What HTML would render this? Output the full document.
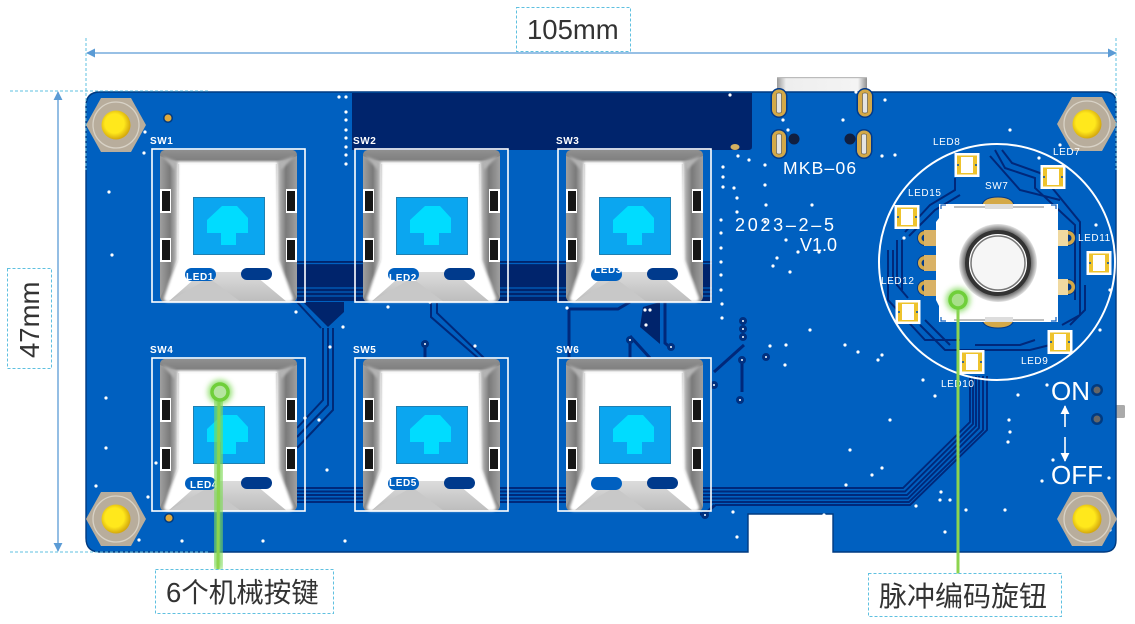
<!DOCTYPE html>
<html><head><meta charset="utf-8">
<style>
html,body{margin:0;padding:0;background:#fff;width:1135px;height:624px;overflow:hidden}
svg{display:block}
.si{font-family:"Liberation Sans",sans-serif;fill:#fff;font-weight:bold;font-size:10px;letter-spacing:.6px}
.pcb{font-family:"Liberation Sans",sans-serif;fill:#fff}
.lab{font-family:"Liberation Sans","Noto Sans CJK SC",sans-serif;fill:#333;font-size:27.5px}
</style></head><body>
<svg width="1135" height="624" viewBox="0 0 1135 624" xmlns="http://www.w3.org/2000/svg">
<defs>
<linearGradient id="gu" x1="0" y1="0" x2="1" y2="0"><stop offset="0" stop-color="#999"/><stop offset=".1" stop-color="#eee"/><stop offset=".9" stop-color="#f4f4f4"/><stop offset="1" stop-color="#8f8f8f"/></linearGradient>
<linearGradient id="gl" x1="0" y1="0" x2="1" y2="0"><stop offset="0" stop-color="#a0a0a0"/><stop offset=".55" stop-color="#7a7a7a"/><stop offset="1" stop-color="#c8c8c8"/></linearGradient>
<linearGradient id="gr" x1="0" y1="0" x2="1" y2="0"><stop offset="0" stop-color="#c8c8c8"/><stop offset=".45" stop-color="#7a7a7a"/><stop offset="1" stop-color="#a0a0a0"/></linearGradient>
<linearGradient id="gt" x1="0" y1="0" x2="0" y2="1"><stop offset="0" stop-color="#909090"/><stop offset=".7" stop-color="#808080"/><stop offset="1" stop-color="#d8d8d8"/></linearGradient>
<linearGradient id="gb" x1="0" y1="0" x2="0" y2="1"><stop offset="0" stop-color="#dcdcdc"/><stop offset="1" stop-color="#bcbcbc"/></linearGradient>
<radialGradient id="gk" cx=".5" cy=".5" r=".5"><stop offset=".72" stop-color="#555"/><stop offset=".86" stop-color="#777"/><stop offset="1" stop-color="#e4e4e4"/></radialGradient>
<radialGradient id="gy" cx=".45" cy=".45" r=".55"><stop offset=".6" stop-color="#ffe81c"/><stop offset="1" stop-color="#d4a80e"/></radialGradient>
<filter id="glow" x="-400%" y="-20%" width="900%" height="140%"><feGaussianBlur stdDeviation="3"/></filter>
<filter id="glow2" x="-60%" y="-60%" width="220%" height="220%"><feGaussianBlur stdDeviation="3"/></filter>
<filter id="soft" x="-10%" y="-10%" width="120%" height="120%"><feGaussianBlur stdDeviation="1.2"/></filter>
<marker id="ah" viewBox="0 0 10 10" refX="9" refY="5" markerWidth="9" markerHeight="9" orient="auto-start-reverse" markerUnits="userSpaceOnUse"><path d="M0 0L10 5L0 10z" fill="#5b9bd5"/></marker>
<marker id="aw" viewBox="0 0 10 10" refX="9" refY="5" markerWidth="9" markerHeight="9" orient="auto" markerUnits="userSpaceOnUse"><path d="M0 0L10 5L0 10z" fill="#fff"/></marker>
<g id="key">
<path d="M15 2H140Q146 2 146 8V148Q146 154 140 154H15Q9 154 9 148V8Q9 2 15 2z" fill="#8a8a8a"/>
<path d="M9 8Q9 2 15 2H140Q146 2 146 8L126 16H27z" fill="url(#gt)"/>
<path d="M9 8L27 16L27 112L9 150z" fill="url(#gl)"/>
<path d="M146 8L126 16L126 112L146 150z" fill="url(#gr)"/>
<path d="M11 8L27 14L24 22z" fill="#b4b4b4" filter="url(#soft)"/>
<path d="M144 8L126 14L130 22z" fill="#b4b4b4" filter="url(#soft)"/>
<path d="M27 14H126L128 112L142 150Q142 154 138 154H17Q13 154 13 150L26 112z" fill="#fff" filter="url(#soft)"/>
<path d="M17 154L42 132L65 124L100 124L136 154z" fill="url(#gb)"/>
<path d="M17 154L58 130L90 154z" fill="#c8c8c8"/>
<rect x="42.500" y="49.500" width="71" height="57" fill="#0ba6f0" stroke="#1f7fb0"/>
<path d="M56 85V72L71 58H86L97 70V85H85V97H70V85z" fill="#00dcff"/>
<path d="M9 41H20V65H9M9 90H20V114H9" fill="#fff"/>
<rect x="11" y="43" width="8" height="20" fill="#161616"/><rect x="11" y="92" width="8" height="20" fill="#161616"/>
<path d="M135 41H146V65H135M135 90H146V114H135z" fill="#fff"/>
<rect x="136" y="43" width="8" height="20" fill="#161616"/><rect x="136" y="92" width="8" height="20" fill="#161616"/>
<rect x="1" y="1" width="153" height="153" fill="none" stroke="#fff" stroke-width="1.600"/>
<rect x="34" y="120" width="31" height="13" rx="6.500" fill="#0060c0"/>
<rect x="90" y="120" width="31" height="12" rx="6" fill="#003a8c"/>
</g>
<g id="led"><rect x="-12.500" y="-12" width="25" height="24" fill="#fff"/><rect x="-10" y="-9.500" width="20" height="19" fill="#eec32c"/><rect x="-6" y="-8" width="12" height="16" fill="#fff"/><circle cx="-9" cy="0" r="1" fill="#0050b0"/><circle cx="9" cy="0" r="1" fill="#0050b0"/></g>
<g id="hole"><path d="M-30 0L-15 -27H15L30 0L15 27H-15z" fill="#b8ad9c"/><circle r="23" fill="none" stroke="#d8d2c6" stroke-width="1.300"/><circle r="14.500" fill="url(#gy)"/></g>
<g id="pad"><circle r="8" fill="#003a8c"/><circle r="7" fill="#d4a948"/><circle r="3.500" fill="#003a8c"/></g>
<g id="oval"><rect x="-8.500" y="-15" width="17" height="30" rx="8.500" fill="#003a8c"/><rect x="-7" y="-13.500" width="14" height="27" rx="7" fill="#d4a948"/><rect x="-2.500" y="-10" width="5" height="20" rx="1.500" fill="#e4e4e4" stroke="#333" stroke-width=".5"/></g>
</defs>

<!-- USB -->
<rect x="777" y="77" width="90" height="16" fill="url(#gu)"/>
<rect x="777" y="77" width="90" height="1.200" fill="#bbb"/>
<!-- side switch -->
<rect x="1114" y="405" width="11" height="13" rx="1.500" fill="#aaa"/>

<!-- Board -->
<path d="M100 92H1105Q1116 92 1116 103V540Q1116 552 1104 552H833V514H748V552H100Q86 552 86 538V106Q86 92 100 92z" fill="#0060c0" stroke="#003a80" stroke-width="1.400"/>
<path d="M352 93H752V147Q752 150 748 150H352z" fill="#00246c"/>
<!-- upper band traces -->
<rect x="297" y="261" width="415" height="40" fill="#00246c"/>
<path d="M297 263.500H712M297 288H712M297 292H712M297 296H712" stroke="#0060c0" stroke-width="1.300"/>
<path d="M303 302L328 327L344 312V302z" fill="#00246c"/>
<path d="M323 328V400L297 428M328 328V405L297 437M333 328V410L297 448" stroke="#002a78" stroke-width="2" fill="none"/>
<path d="M297 302L321 328" stroke="#002a78" stroke-width="2"/>
<path d="M431 303V317L478 358M437 303V313L484 358" stroke="#00287a" stroke-width="2" fill="none"/>
<path d="M425 345V358" stroke="#00287a" stroke-width="3"/>
<path d="M569 309H618L630 302M569 309V358" stroke="#00287a" stroke-width="3" fill="none"/>
<path d="M643 307L660 302V344L640 327z" fill="#00246c"/>
<path d="M630 340V358M665 302V343L672 349M630 336L650 358" stroke="#00287a" stroke-width="3" fill="none"/>
<path d="M714 372L744 345M742 360V392" stroke="#00287a" stroke-width="3" fill="none"/>
<!-- bottom bus -->
<g fill="none" stroke="#00287a" stroke-width="1.900">
<path d="M297 488H903L970 422V376"/>
<path d="M297 491.500H905L973 424V376"/>
<path d="M297 495H907L976 426V376"/>
<path d="M297 498.500H908L979 428V376"/>
<path d="M297 502H909L983 430V376"/>
<path d="M715 505H910L987 430V376"/>
<path d="M715 505L705 514H700" stroke-width="3"/>
</g>
<!-- encoder traces -->
<g fill="none" stroke="#00287a" stroke-width="2">
<path d="M905 232L930 205L955 190V178M909 236L935 210L960 195"/>
<path d="M897 240V285L908 298M902 240V290M893 250V280M888 250V300L925 340H960"/>
<path d="M995 150L1005 168L1035 178L1035 188L1075 225V300M1002 150L1012 163L1040 173L1080 222V298M990 156L1020 190L1060 200"/>
<path d="M1085 285V310L1070 325M1080 295V315L1062 325M1050 345L1030 350H965M1035 340L1020 345H975"/>
<path d="M920 325L945 350H965M925 320L950 345"/>
</g>

<!-- vias -->
<path fill="none" stroke="#fff" stroke-width="3.200" stroke-linecap="round" d="M339 97h0M346 97h0M346 112h0M346 120h0M346 130h0M346 138h0M346 147h0M346 155h0M346 164h0M144 153h0M145 132h0M109 192h0M112 255h0M106 398h0M106 448h0M156 463h0M139 540h0M182 541h0M263 541h0M345 541h0M96 486h0M148 497h0M330 347h0M319 420h0M327 470h0M305 418h0M296 312h0M343 327h0M424 342h0M475 346h0M388 307h0M430 302h0M567 308h0M645 310h0M650 310h0M646 325h0M777 258h0M773 266h0M790 272h0M798 252h0M819 252h0M786 240h0M812 205h0M783 120h0M788 130h0M843 120h0M866 100h0M885 100h0M882 156h0M765 165h0M765 185h0M766 205h0M765 222h0M723 167h0M723 177h0M723 187h0M734 188h0M737 198h0M737 212h0M721 220h0M721 233h0M721 248h0M721 262h0M721 275h0M721 290h0M722 304h0M722 318h0M738 156h0M749 160h0M730 95h0M856 92h0M895 155h0M904 238h0M1039 158h0M1097 130h0M1010 130h0M882 355h0M858 352h0M878 360h0M923 380h0M935 396h0M1018 395h0M1047 385h0M1010 432h0M1009 420h0M1008 442h0M1042 481h0M1053 460h0M1075 505h0M1109 478h0M1083 500h0M1110 530h0M916 506h0M945 532h0M966 510h0M824 515h0M737 537h0M733 512h0M850 450h0M872 475h0M846 485h0M882 468h0M940 500h0M941 492h0M1104 110h0M1060 145h0M1112 125h0M1096 225h0M1110 290h0M1100 330h0M950 500h0M785 365h0M770 346h0M786 345h0M810 330h0M845 345h0M1005 510h0M890 420h0"/>
<!-- via rings -->
<g fill="#fff" stroke="#003080" stroke-width="3"><circle cx="743" cy="321" r="2.500"/><circle cx="743" cy="329" r="2.500"/><circle cx="743" cy="337" r="2.500"/><circle cx="766" cy="357" r="2.500"/><circle cx="742" cy="360" r="2.500"/><circle cx="740" cy="400" r="2.500"/><circle cx="705" cy="515" r="2.500"/><circle cx="714" cy="385" r="2.500"/><circle cx="425" cy="344" r="2.500"/><circle cx="630" cy="340" r="2.500"/><circle cx="671" cy="347" r="2.500"/></g>
<circle cx="168" cy="118" r="5" fill="#003a80"/><circle cx="168" cy="118" r="3.500" fill="#e0a93c"/>
<circle cx="169" cy="518" r="5" fill="#003a80"/><circle cx="169" cy="518" r="3.500" fill="#e0a93c"/>
<ellipse cx="735" cy="147" rx="4.500" ry="3" fill="#d4b060"/>

<!-- holes -->
<use href="#hole" x="116" y="125"/><use href="#hole" x="116" y="519"/><use href="#hole" x="1087" y="124"/><use href="#hole" x="1087" y="519"/>

<!-- USB pads -->
<use href="#oval" x="779" y="103"/><use href="#oval" x="865" y="103"/><use href="#oval" x="779" y="144"/><use href="#oval" x="864" y="144"/>
<circle cx="794" cy="139" r="5.500" fill="#101f40"/><circle cx="850" cy="139" r="5.500" fill="#101f40"/>

<!-- keys -->
<use href="#key" x="151" y="148"/><use href="#key" x="354" y="148"/><use href="#key" x="557" y="148"/>
<use href="#key" x="151" y="357"/><use href="#key" x="354" y="357"/><use href="#key" x="557" y="357"/>

<g class="si">
<text x="150" y="144">SW1</text><text x="353" y="144">SW2</text><text x="556" y="144">SW3</text>
<text x="150" y="353">SW4</text><text x="353" y="353">SW5</text><text x="556" y="353">SW6</text>
<text x="186" y="280">LED1</text><text x="389" y="281">LED2</text><text x="594" y="273">LED3</text>
<text x="190" y="488">LED4</text><text x="389" y="486">LED5</text>
</g>

<!-- PCB text -->
<text class="pcb" x="783" y="174" font-size="17.500" letter-spacing="1.200">MKB–06</text>
<text class="pcb" x="735" y="231" font-size="18" letter-spacing="2.700">2023–2–5</text>
<text class="pcb" x="800" y="251" font-size="18">V1.0</text>
<text class="pcb" x="1051" y="400" font-size="26">ON</text>
<text class="pcb" x="1051" y="484" font-size="26">OFF</text>
<path d="M1065 427V406" stroke="#fff" stroke-width="1.600" marker-end="url(#aw)"/>
<path d="M1065 437V461" stroke="#fff" stroke-width="1.600" marker-end="url(#aw)"/>
<circle cx="1097" cy="390" r="6" fill="#003a80"/><circle cx="1097" cy="390" r="3.500" fill="#666"/>
<circle cx="1097" cy="419" r="6" fill="#003a80"/><circle cx="1097" cy="419" r="3.500" fill="#666"/>

<!-- encoder -->
<circle cx="997" cy="262" r="118" fill="none" stroke="#fff" stroke-width="2"/>
<use href="#led" x="967" y="165"/><use href="#led" x="1053" y="177"/><use href="#led" x="907" y="217"/><use href="#led" x="1099" y="263"/><use href="#led" x="908" y="312"/><use href="#led" x="1060" y="342"/><use href="#led" x="972" y="362"/>
<use href="#pad" x="925" y="238"/><use href="#pad" x="925" y="263"/><use href="#pad" x="925" y="288"/><use href="#pad" x="1068" y="238"/><use href="#pad" x="1068" y="287"/>
<path d="M924 230H945V246H924M924 255H945V271H924M924 280H945V296H924" fill="#d9b266"/>
<path d="M1058 230H1068V246H1058M1058 279H1068V295H1058" fill="#f0d9a0"/>
<path d="M982 205Q984 197 998 197Q1012 197 1014 205z" fill="#d4a948" stroke="#003a8c"/>
<path d="M982 320Q984 328 998 328Q1012 328 1014 320z" fill="#d4a948" stroke="#003a8c"/>
<path d="M939 204H1058V322H939V306L936 300V222L939 218z" fill="#fff"/>
<path d="M954 207H1044M954 320H1044" stroke="#aaa" stroke-width="1.500"/>
<rect x="985" y="204" width="28" height="5" fill="#ddd"/><rect x="985" y="317" width="28" height="5" fill="#ddd"/>
<path d="M941 209V205H946M1056 209V205H1051M941 317V321H946M1056 317V321H1051" stroke="#1060c0" stroke-width="1.200" fill="none"/>
<circle cx="998" cy="263" r="39" fill="url(#gk)"/>
<circle cx="998" cy="263" r="31" fill="#fff" stroke="#333" stroke-width="4"/>
<circle cx="998" cy="263" r="27" fill="#f6f6f6" stroke="#777" stroke-width="1.500"/>

<g class="si" style="font-size:10px;font-weight:normal">
<text x="933" y="145">LED8</text><text x="1053" y="155">LED7</text><text x="908" y="196">LED15</text><text x="985" y="189">SW7</text>
<text x="1078" y="241">LED11</text><text x="881" y="284">LED12</text><text x="1021" y="364">LED9</text><text x="941" y="387">LED10</text>
</g>

<!-- green callouts -->
<g>
<line x1="958" y1="300" x2="958" y2="580" stroke="#7ed957" stroke-width="11" opacity=".8" filter="url(#glow)"/>
<line x1="958" y1="300" x2="958" y2="580" stroke="#8cd44f" stroke-width="3"/>
<circle cx="958" cy="300" r="12" fill="#7ed957" opacity=".85" filter="url(#glow2)"/>
<circle cx="958" cy="300" r="8" fill="#a8e08a" stroke="#6fcf3a" stroke-width="3.500"/>
<line x1="219" y1="392" x2="218" y2="570" stroke="#7ed957" stroke-width="11" opacity=".8" filter="url(#glow)"/>
<line x1="219" y1="392" x2="218" y2="570" stroke="#8cd44f" stroke-width="3"/>
<circle cx="220" cy="392" r="12" fill="#7ed957" opacity=".85" filter="url(#glow2)"/>
<circle cx="220" cy="392" r="8" fill="#b5e5a0" stroke="#6fcf3a" stroke-width="3.500"/>
</g>

<!-- dimensions -->
<path d="M87 53H1116" stroke="#5b9bd5" stroke-width="1.300" marker-start="url(#ah)" marker-end="url(#ah)" fill="none"/>
<path d="M58 92V551" stroke="#5b9bd5" stroke-width="1.300" marker-start="url(#ah)" marker-end="url(#ah)" fill="none"/>
<g stroke="#5fc0e0" stroke-width="1" stroke-dasharray="3 2" fill="none">
<path d="M86 38V170M1116 38V170M10 91H210M10 552H210"/>
<rect x="516.500" y="7.500" width="114" height="44" fill="#fff"/>
<rect x="7.500" y="268.500" width="44" height="100" fill="#fff"/>
<rect x="155.500" y="569.500" width="178" height="44" fill="#fff"/>
<rect x="868.500" y="573.500" width="193" height="43" fill="#fff"/>
</g>
<text class="lab" x="527" y="39">105mm</text>
<text class="lab" transform="translate(39,358) rotate(-90)">47mm</text>
<text class="lab" x="166" y="602">6个机械按键</text>
<text class="lab" x="879" y="606" style="font-size:28px">脉冲编码旋钮</text>
</svg>
</body></html>
